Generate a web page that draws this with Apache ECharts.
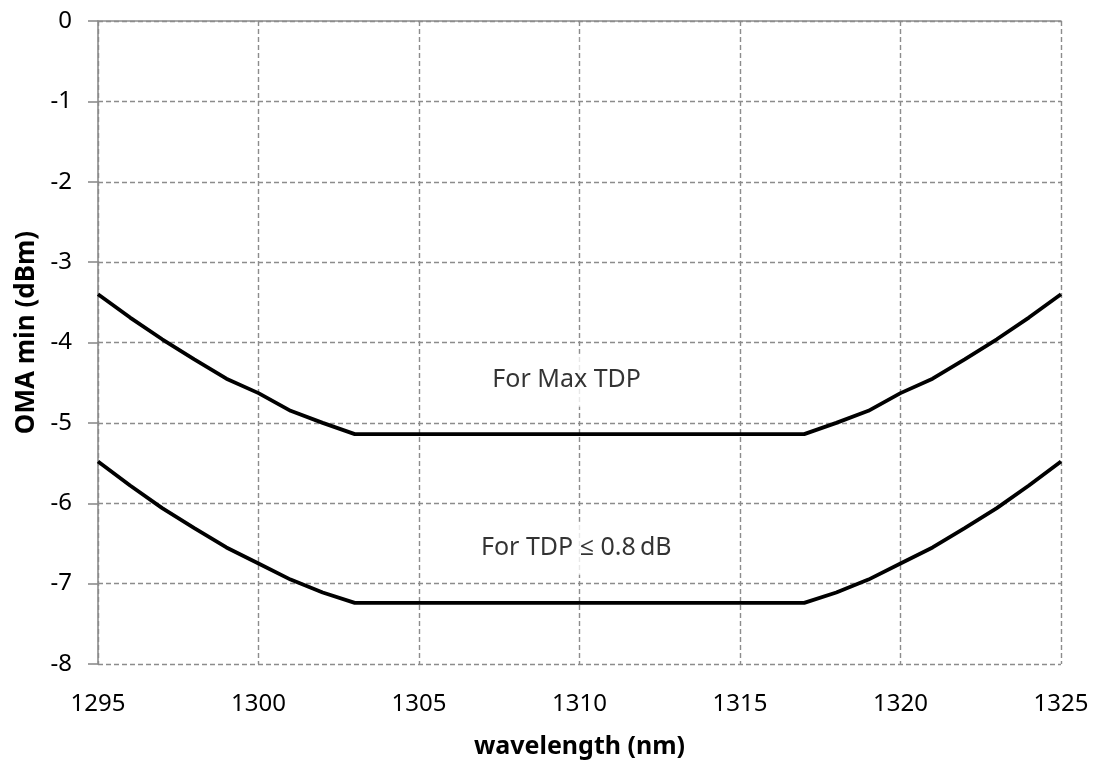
<!DOCTYPE html>
<html>
<head>
<meta charset="utf-8">
<script src="https://cdn.jsdelivr.net/npm/echarts@6/dist/echarts.min.js"></script>
<style>
html,body{margin:0;padding:0;background:#fff;}
#chart{width:1099px;height:761px;}
</style>
</head>
<body>
<div id="chart"></div>
<script>
var wavelength = [1295, 1296, 1297, 1298, 1299, 1300, 1301, 1302, 1303, 1317, 1318, 1319, 1320, 1321, 1322, 1323, 1324, 1325];
var omaMaxTDP = [-3.40, -3.69, -3.96, -4.21, -4.45, -4.63, -4.85, -5.00, -5.14, -5.14, -5.00, -4.85, -4.63, -4.45, -4.21, -3.96, -3.69, -3.40];
var omaTDP08 = [-5.48, -5.78, -6.06, -6.31, -6.55, -6.75, -6.95, -7.11, -7.24, -7.24, -7.11, -6.95, -6.75, -6.55, -6.31, -6.06, -5.78, -5.48];
var annotationText = ['For Max TDP', 'For TDP \u2264 0.8\u2009dB'];
var annotationX = [1309.6, 1309.9];
var annotationY = [-4.47, -6.56];
var xTicks = {min: 1295, max: 1325, interval: 5};
var yTicks = {min: -8, max: 0, interval: 1};

var FONT = "'Noto Sans', 'Open Sans', sans-serif";
var gridColor = '#8c8c8c';

function pairs(xs, ys) { return xs.map(function (x, i) { return [x, ys[i]]; }); }

var chart = echarts.init(document.getElementById('chart'), null, {renderer: 'canvas'});
chart.setOption({
  animation: false,
  backgroundColor: '#fff',
  grid: {left: 98, right: 38, top: 21, bottom: 97, containLabel: false, outerBoundsMode: 'none'},
  xAxis: [{
    type: 'value',
    position: 'bottom',
    min: xTicks.min, max: xTicks.max, interval: xTicks.interval,
    name: 'wavelength (nm)',
    nameLocation: 'middle',
    nameGap: 70,
    nameTextStyle: {fontFamily: FONT, fontSize: 25, fontWeight: 'bold', color: '#000'},
    axisLine: {show: false, onZero: false},
    axisTick: {show: false},
    axisLabel: {fontFamily: FONT, fontSize: 24, color: '#000', margin: 28,
      formatter: function (v) { return String(v); }},
    splitLine: {show: true, lineStyle: {color: gridColor, width: 1.4, type: [5, 3]}}
  }, {
    type: 'value',
    position: 'top',
    min: xTicks.min, max: xTicks.max, interval: xTicks.interval,
    axisLine: {show: true, onZero: false, lineStyle: {color: gridColor, width: 1.6}},
    axisTick: {show: false},
    axisLabel: {show: false},
    splitLine: {show: false}
  }],
  yAxis: {
    type: 'value',
    min: yTicks.min, max: yTicks.max, interval: yTicks.interval,
    name: 'OMA min (dBm)',
    nameLocation: 'middle',
    nameGap: 58,
    nameRotate: 90,
    nameTextStyle: {fontFamily: FONT, fontSize: 26, fontWeight: 'bold', color: '#000', padding: [0, 0, 0, 20]},
    axisLine: {show: true, onZero: false, lineStyle: {color: gridColor, width: 1.6}},
    axisTick: {show: true, length: 10, inside: false, lineStyle: {color: gridColor, width: 1.6}},
    axisLabel: {fontFamily: FONT, fontSize: 24, color: '#000', margin: 26},
    splitLine: {show: true, lineStyle: {color: gridColor, width: 1.4, type: [5, 3]}}
  },
  series: [{
    type: 'line',
    name: 'For Max TDP',
    data: pairs(wavelength, omaMaxTDP),
    showSymbol: false,
    symbol: 'none',
    lineStyle: {color: '#000', width: 3.8},
    z: 3
  }, {
    type: 'line',
    name: 'For TDP <= 0.8 dB',
    data: pairs(wavelength, omaTDP08),
    showSymbol: false,
    symbol: 'none',
    lineStyle: {color: '#000', width: 3.8},
    z: 3
  }, {
    type: 'scatter',
    symbolSize: 0,
    silent: true,
    z: 4,
    data: annotationText.map(function (t, i) { return {value: [annotationX[i], annotationY[i]], name: t}; }),
    label: {
      show: true,
      position: 'inside',
      formatter: function (p) { return p.name; },
      fontFamily: FONT,
      fontSize: 25,
      color: '#000',
      backgroundColor: '#fff',
      padding: [14, 8]
    }
  }]
});
</script>
</body>
</html>
